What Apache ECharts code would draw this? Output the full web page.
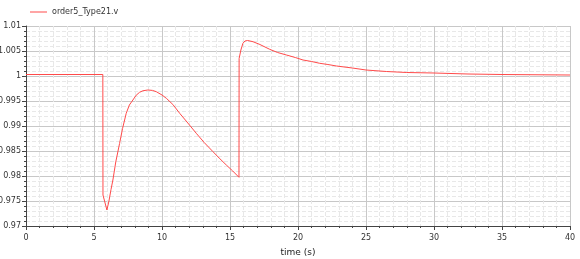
<!DOCTYPE html>
<html><head><meta charset="utf-8">
<script src="https://cdn.jsdelivr.net/npm/echarts@6/dist/echarts.min.js"></script>
<style>html,body{margin:0;padding:0;background:#fff}#c{width:580px;height:259px}</style>
</head><body><div id="c"></div>
<script>
var seriesName = 'order5_Type21.v';
var xAxisName = 'time (s)';
var times  = [0, 5.65, 5.66, 5.95, 6.1, 6.25, 6.39, 6.6, 6.88, 7.1, 7.37, 7.6, 7.86, 8.1, 8.35, 8.6, 8.96, 9.3, 9.58, 10.0, 10.32, 10.8, 11.3, 11.9, 12.52, 13.1, 13.75, 14.2, 14.73, 15.2, 15.66,
              15.67, 15.8, 15.95, 16.1, 16.3, 16.69, 17.2, 17.92, 18.5, 19.15, 19.8, 20.37, 21.0, 21.6, 22.2, 22.83, 24, 25, 26.5, 28, 30, 32.5, 35, 40];
var values = [1.0003, 1.0003, 0.9762, 0.9732, 0.9750, 0.9773, 0.9792, 0.9828, 0.9865, 0.9895, 0.99254, 0.9942, 0.9952, 0.99615, 0.99674, 0.99705, 0.9972, 0.99712, 0.99686, 0.9962, 0.99554, 0.9943, 0.99254, 0.9906, 0.98854, 0.9867, 0.98486, 0.9836, 0.9822, 0.9810, 0.97974,
              1.0035, 1.0052, 1.00654, 1.0070, 1.0071, 1.00686, 1.0063, 1.00534, 1.0047, 1.0042, 1.0037, 1.0032, 1.0029, 1.00254, 1.0023, 1.0020, 1.0016, 1.0012, 1.0009, 1.0007, 1.0006, 1.0004, 1.0003, 1.0002];
var xMin = 0, xMax = 40, xStep = 5;
var yMin = 0.97, yMax = 1.01, yStep = 0.005;

var data = times.map(function(t, i){ return [t, values[i]]; });
var chart = echarts.init(document.getElementById('c'), null, {renderer:'canvas'});
var font = 'Tahoma, "DejaVu Sans", sans-serif';
chart.setOption({
  animation: false,
  backgroundColor: '#fff',
  legend: {
    left: 25, top: 3, icon: 'rect', itemWidth: 17, itemHeight: 1,
    textStyle: {fontSize: 8, color: '#333', fontFamily: font},
    data: [seriesName]
  },
  grid: {left: 26, right: 10, top: 26, bottom: 33, containLabel: false, outerBoundsMode: 'none'},
  xAxis: {
    type: 'value', min: xMin, max: xMax, interval: xStep,
    name: xAxisName, nameLocation: 'middle', nameGap: 22,
    nameTextStyle: {fontSize: 9, color: '#222', fontFamily: font},
    axisLine: {lineStyle: {color: '#444', width: 1}},
    axisTick: {show: true, length: 4, lineStyle: {color: '#444'}},
    minorTick: {show: true, splitNumber: 5, length: 2, lineStyle: {color: '#444'}},
    axisLabel: {fontSize: 8, color: '#333', fontFamily: font, margin: 8},
    splitLine: {show: true, lineStyle: {color: '#c8c8c8', width: 1}},
    minorSplitLine: {show: true, lineStyle: {color: '#e8e8e8', type: 'dashed', width: 1}}
  },
  yAxis: {
    type: 'value', min: yMin, max: yMax, interval: yStep,
    axisLine: {show: true, lineStyle: {color: '#444', width: 1}},
    axisTick: {show: true, length: 4, lineStyle: {color: '#444'}},
    minorTick: {show: true, splitNumber: 5, length: 2, lineStyle: {color: '#444'}},
    axisLabel: {fontSize: 8, color: '#333', fontFamily: font, margin: 5,
      formatter: function(v){ return String(parseFloat(v.toFixed(4))); }},
    splitLine: {show: true, lineStyle: {color: '#c8c8c8', width: 1}},
    minorSplitLine: {show: true, lineStyle: {color: '#e8e8e8', type: 'dashed', width: 1}}
  },
  series: [{
    name: seriesName, type: 'line', data: data, smooth: false, symbol: 'none',
    lineStyle: {color: '#ff4a4a', width: 1}, itemStyle: {color: '#ff4a4a'}
  }]
});
</script></body></html>
